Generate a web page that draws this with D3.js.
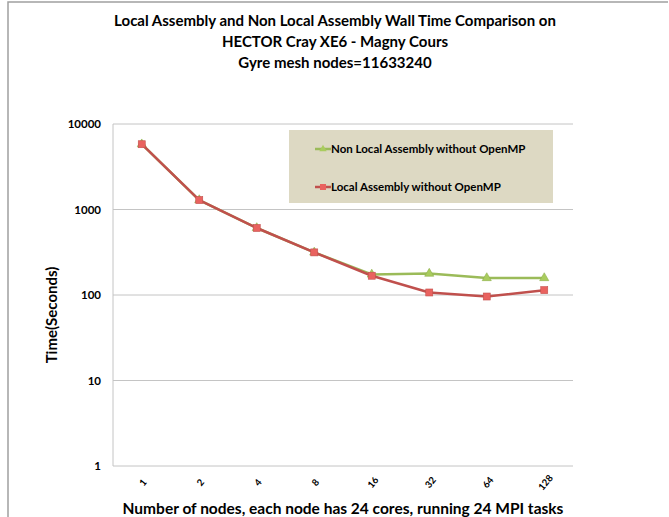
<!DOCTYPE html>
<html>
<head>
<meta charset="utf-8">
<script src="https://cdn.jsdelivr.net/npm/d3@7"></script>
<style>
  html, body { margin: 0; padding: 0; background: #fff; }
  svg { display: block; }
  text { font-family: Lato, "Open Sans", sans-serif; font-weight: bold; fill: #000; }
</style>
</head>
<body>
<svg id="chart" width="669" height="517"></svg>
<script>
// Node counts (x categories)
const nodes = ["1", "2", "4", "8", "16", "32", "64", "128"];
// Wall time in seconds
const nonLocalTimes = [5800, 1290, 608, 315, 174, 178, 158, 158];
const localTimes    = [5800, 1290, 608, 315, 168, 107, 96, 114];
// Y axis ticks
const yTicks = [1, 10, 100, 1000, 10000];

const titleLines = [
  "Local Assembly and Non Local Assembly Wall Time Comparison on",
  "HECTOR Cray XE6 - Magny Cours",
  "Gyre mesh nodes=11633240"
];
const seriesNames = ["Non Local Assembly without OpenMP", "Local Assembly without OpenMP"];

const svg = d3.select("#chart");
const W = 669, H = 517;
const plot = { left: 113, right: 573, top: 124, bottom: 466 };

// Outer frame (top and left edges)
svg.append("path")
  .attr("d", `M8,${H} L8,2 L668,2`)
  .attr("fill", "none")
  .attr("stroke", "#a0a0a0")
  .attr("stroke-width", 1.5);

// Title
svg.append("g").selectAll("text").data(titleLines).join("text")
  .attr("x", 335)
  .attr("y", (d, i) => 26 + i * 21)
  .attr("text-anchor", "middle")
  .attr("font-size", 15)
  .text(d => d);

const x = d3.scaleBand().domain(nodes).range([plot.left, plot.right]);
const y = d3.scaleLog().domain([1, 10000]).range([plot.bottom, plot.top]);

// Horizontal gridlines
svg.append("g").selectAll("line").data(yTicks).join("line")
  .attr("x1", plot.left).attr("x2", plot.right)
  .attr("y1", d => y(d)).attr("y2", d => y(d))
  .attr("stroke", "#c4c4c4").attr("stroke-width", 1);

// Vertical axis line
svg.append("line")
  .attr("x1", plot.left).attr("x2", plot.left)
  .attr("y1", plot.top).attr("y2", plot.bottom)
  .attr("stroke", "#c4c4c4").attr("stroke-width", 1);

// Y axis tick labels
const yAxis = d3.axisLeft(y).tickValues(yTicks).tickFormat(d3.format("d")).tickSize(0).tickPadding(12);
const gy = svg.append("g").attr("transform", `translate(${plot.left},0)`).call(yAxis);
gy.select(".domain").remove();
gy.selectAll("text").attr("font-size", 11.5).attr("font-family", "Lato, sans-serif").attr("font-weight", "bold").attr("fill", "#000");

// X axis tick labels (rotated)
const xAxis = d3.axisBottom(x).tickSize(0).tickPadding(0);
const gx = svg.append("g").attr("transform", `translate(0,${plot.bottom})`).call(xAxis);
gx.select(".domain").remove();
gx.selectAll(".tick text")
  .attr("font-size", 9.5).attr("font-family", "Lato, sans-serif").attr("font-weight", "bold").attr("fill", "#000")
  .attr("text-anchor", "middle")
  .attr("dy", null).attr("y", 0)
  .attr("transform", "translate(2,17) rotate(-50)")
  .attr("dominant-baseline", "middle");

// Axis titles
svg.append("text")
  .attr("transform", `translate(57,315) rotate(-90)`)
  .attr("text-anchor", "middle")
  .attr("font-size", 15)
  .text("Time(Seconds)");

svg.append("text")
  .attr("x", 343).attr("y", 514)
  .attr("text-anchor", "middle")
  .attr("font-size", 15.5)
  .text("Number of nodes, each node has 24 cores, running 24 MPI tasks");

// Legend box
svg.append("rect")
  .attr("x", 289).attr("y", 130).attr("width", 264).attr("height", 73)
  .attr("fill", "#ddd9c3");

const cx = d => x(d) + x.bandwidth() / 2;
const line = d3.line().x((d, i) => cx(nodes[i])).y(d => y(d));

const greenLine = "#9bbb59", greenFill = "#a9cc5e";
const redLine = "#c0504d", redFill = "#e9625f";

// Non local series (drawn first, beneath the local series)
svg.append("path").datum(nonLocalTimes)
  .attr("d", line).attr("fill", "none")
  .attr("stroke", greenLine).attr("stroke-width", 2.5).attr("stroke-linejoin", "round");
const tri = d3.symbol().type(d3.symbolTriangle).size(36);
svg.append("g").selectAll("path").data(nonLocalTimes).join("path")
  .attr("d", tri)
  .attr("transform", (d, i) => `translate(${cx(nodes[i])},${y(d)})`)
  .attr("fill", greenFill).attr("stroke", "#8fb04c").attr("stroke-width", 0.6);

// Local series
svg.append("path").datum(localTimes)
  .attr("d", line).attr("fill", "none")
  .attr("stroke", redLine).attr("stroke-width", 2.5).attr("stroke-linejoin", "round");
svg.append("g").selectAll("rect").data(localTimes).join("rect")
  .attr("x", (d, i) => cx(nodes[i]) - 3.5)
  .attr("y", d => y(d) - 3.5)
  .attr("width", 7).attr("height", 7)
  .attr("fill", redFill).attr("stroke", "#c4504d").attr("stroke-width", 0.6);

// Legend entries
const legendItems = [
  { name: seriesNames[0], color: greenLine, fill: greenFill, shape: "tri", y: 149 },
  { name: seriesNames[1], color: redLine, fill: redFill, shape: "sq", y: 187 }
];
const lg = svg.append("g").selectAll("g").data(legendItems).join("g");
lg.append("line")
  .attr("x1", 315).attr("x2", 331)
  .attr("y1", d => d.y).attr("y2", d => d.y)
  .attr("stroke", d => d.color).attr("stroke-width", 2.5);
lg.filter(d => d.shape === "tri").append("path")
  .attr("d", d3.symbol().type(d3.symbolTriangle).size(24))
  .attr("transform", d => `translate(323,${d.y})`)
  .attr("fill", d => d.fill);
lg.filter(d => d.shape === "sq").append("rect")
  .attr("x", 320).attr("y", d => d.y - 3).attr("width", 6).attr("height", 6)
  .attr("fill", d => d.fill);
lg.append("text")
  .attr("x", 331).attr("y", d => d.y + 4)
  .attr("font-size", 11.5)
  .text(d => d.name);
</script>
</body>
</html>
